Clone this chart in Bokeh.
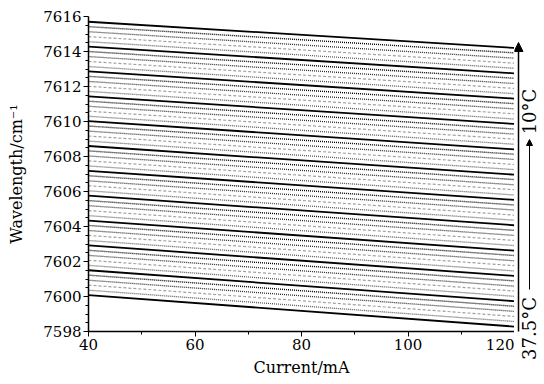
import math
from bokeh.plotting import figure
from bokeh.layouts import row
from bokeh.models import Range1d, FixedTicker, Label, Arrow, NormalHead
from bokeh.embed import file_html
from bokeh.resources import INLINE

currents = [40, 120]
temps_c = [10.0, 10.5, 11.0, 11.5, 12.0, 12.5, 13.0, 13.5, 14.0, 14.5,
           15.0, 15.5, 16.0, 16.5, 17.0, 17.5, 18.0, 18.5, 19.0, 19.5,
           20.0, 20.5, 21.0, 21.5, 22.0, 22.5, 23.0, 23.5, 24.0, 24.5,
           25.0, 25.5, 26.0, 26.5, 27.0, 27.5, 28.0, 28.5, 29.0, 29.5,
           30.0, 30.5, 31.0, 31.5, 32.0, 32.5, 33.0, 33.5, 34.0, 34.5,
           35.0, 35.5, 36.0, 36.5, 37.0, 37.5]
wn_at_40mA = [7615.70, 7615.42, 7615.13, 7614.85, 7614.56, 7614.28, 7614.00, 7613.71,
              7613.43, 7613.14, 7612.86, 7612.58, 7612.29, 7612.01, 7611.72, 7611.44,
              7611.16, 7610.87, 7610.59, 7610.30, 7610.02, 7609.74, 7609.45, 7609.17,
              7608.88, 7608.60, 7608.32, 7608.03, 7607.75, 7607.46, 7607.18, 7606.90,
              7606.61, 7606.33, 7606.04, 7605.76, 7605.48, 7605.19, 7604.91, 7604.62,
              7604.34, 7604.06, 7603.77, 7603.49, 7603.20, 7602.92, 7602.64, 7602.35,
              7602.07, 7601.78, 7601.50, 7601.22, 7600.93, 7600.65, 7600.36, 7600.08]
wn_at_120mA = [7614.20, 7613.92, 7613.62, 7613.33, 7613.04, 7612.75, 7612.47, 7612.17,
               7611.89, 7611.59, 7611.31, 7611.02, 7610.72, 7610.44, 7610.14, 7609.86,
               7609.57, 7609.28, 7608.99, 7608.70, 7608.41, 7608.13, 7607.83, 7607.54,
               7607.25, 7606.96, 7606.68, 7606.38, 7606.10, 7605.80, 7605.52, 7605.23,
               7604.94, 7604.65, 7604.36, 7604.07, 7603.78, 7603.49, 7603.20, 7602.91,
               7602.62, 7602.34, 7602.04, 7601.76, 7601.46, 7601.18, 7600.89, 7600.59,
               7600.31, 7600.01, 7599.73, 7599.44, 7599.15, 7598.86, 7598.57, 7598.28]
x_ticks = [40, 60, 80, 100, 120]
x_minor = [50, 70, 90, 110]
y_ticks = [7598, 7600, 7602, 7604, 7606, 7608, 7610, 7612, 7614, 7616]
y_minor = [7598.5, 7599, 7599.5, 7600.5, 7601, 7601.5, 7602.5, 7603, 7603.5,
           7604.5, 7605, 7605.5, 7606.5, 7607, 7607.5, 7608.5, 7609, 7609.5,
           7610.5, 7611, 7611.5, 7612.5, 7613, 7613.5, 7614.5, 7615, 7615.5]

FONT = "DejaVu Serif"
H = 380
LEFT = 88
TOP = 16
FRAME_W = 426
FRAME_H = 315
SIDE_W = 540 - LEFT - FRAME_W

p = figure(frame_width=FRAME_W, frame_height=FRAME_H, output_backend="svg", toolbar_location=None,
           x_range=Range1d(40, 120), y_range=Range1d(7598, 7616),
           min_border_left=LEFT, min_border_right=0, min_border_top=TOP,
           min_border_bottom=H - TOP - FRAME_H)
p.outline_line_color = None
p.grid.visible = False

styles = [
    dict(line_color="black", line_width=1.8, line_dash="solid"),
    dict(line_color="black", line_width=1.4, line_dash="1 1"),
    dict(line_color="#2a2a2a", line_width=1.3, line_dash="1 1"),
    dict(line_color="#a0a0a0", line_width=1.2, line_dash="3 2"),
    dict(line_color="#5a5a5a", line_width=1.3, line_dash="1 1"),
]

for i, (a, b) in enumerate(zip(wn_at_40mA, wn_at_120mA)):
    st = styles[i % len(styles)]
    p.line(x=currents, y=[a, b], **st)

for ax in (p.xaxis[0], p.yaxis[0]):
    ax.axis_line_width = 1.5
    ax.axis_line_color = "black"
    ax.major_tick_line_color = "black"
    ax.minor_tick_line_color = "black"
    ax.major_tick_out = 5
    ax.major_tick_in = 0
    ax.minor_tick_out = 3
    ax.minor_tick_in = 0
    ax.major_label_text_font = FONT
    ax.major_label_text_font_size = "15px"
    ax.major_label_text_color = "black"
    ax.axis_label_text_font = FONT
    ax.axis_label_text_font_size = "16px"
    ax.axis_label_text_font_style = "normal"
    ax.axis_label_text_color = "black"

p.xaxis.ticker = FixedTicker(ticks=x_ticks, minor_ticks=x_minor)
p.yaxis.ticker = FixedTicker(ticks=y_ticks, minor_ticks=y_minor)
p.xaxis.axis_label = "Current/mA"
p.yaxis.axis_label = "Wavelength/cm\u207b\u00b9"
p.xaxis.major_label_standoff = 2
p.yaxis.major_label_standoff = 2
p.xaxis.axis_label_standoff = 5
p.yaxis.axis_label_standoff = 14

# side panel for the temperature annotation (pixel-like coordinates, y downwards)
side = figure(width=SIDE_W, height=H, output_backend="svg", toolbar_location=None,
              x_range=Range1d(0, SIDE_W), y_range=Range1d(H, 0),
              min_border_left=0, min_border_right=0, min_border_top=0, min_border_bottom=0)
side.frame_align = False
side.axis.visible = False
side.grid.visible = False
side.outline_line_color = None

side.add_layout(Arrow(end=NormalHead(size=9, fill_color="black", line_color="black"),
                      x_start=4, y_start=331, x_end=4, y_end=42,
                      line_width=1.5, line_color="black"))
side.add_layout(Arrow(end=NormalHead(size=6, fill_color="black", line_color="black"),
                      x_start=15, y_start=289, x_end=15, y_end=139,
                      line_width=1, line_color="black"))
side.add_layout(Label(x=15, y=328, text="37.5\u00b0C", angle=math.pi / 2,
                      text_align="center", text_baseline="middle",
                      text_font=FONT, text_font_size="18px", text_color="black"))
side.add_layout(Label(x=15, y=111, text="10\u00b0C", angle=math.pi / 2,
                      text_align="center", text_baseline="middle",
                      text_font=FONT, text_font_size="18px", text_color="black"))

layout = row(p, side)
open("out.html", "w").write(file_html(layout, INLINE))
